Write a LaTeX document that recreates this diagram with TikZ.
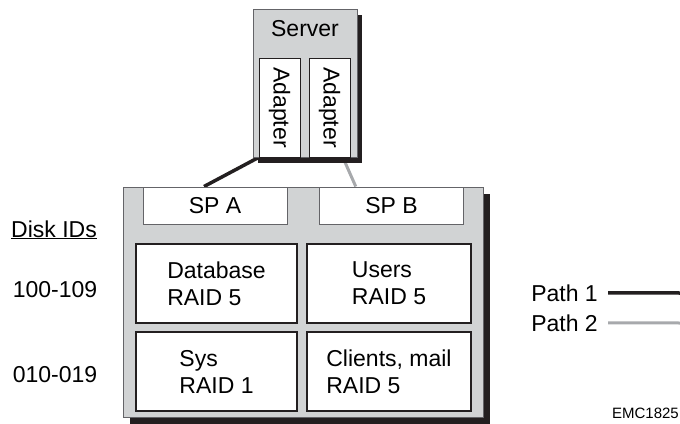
\documentclass[tikz,border=0pt]{standalone}
\usepackage{fontspec}
\setmainfont{Liberation Sans}
\usepackage{tikz}
\usetikzlibrary{shadows,backgrounds,calc}
\definecolor{boxgray}{RGB}{209,211,212}
\definecolor{linegray}{RGB}{167,169,172}
\definecolor{dark}{RGB}{35,31,32}
\definecolor{edgegray}{RGB}{100,100,104}
\tikzstyle{bigfont} = [font=\fontsize{23}{27}\selectfont]
\tikzstyle{cabinet} = [rectangle, draw=edgegray, line width=1pt, fill=boxgray, inner sep=0pt]
\tikzstyle{spbox} = [rectangle, draw=edgegray, line width=1pt, fill=white, minimum width=144pt, minimum height=37pt, inner sep=0pt, bigfont]
\tikzstyle{raidbox} = [rectangle, draw=dark, line width=1.6pt, fill=white, minimum height=79pt, inner sep=0pt, align=left, bigfont]
\tikzstyle{adapterbox} = [rectangle, draw=dark, line width=1pt, fill=white, minimum width=41pt, minimum height=99pt, inner sep=0pt, bigfont]
\tikzstyle{tag} = [inner sep=0pt, bigfont]
\tikzstyle{pathone} = [line width=3.5pt, dark]
\tikzstyle{pathtwo} = [line width=3pt, linegray]

\begin{document}
\begin{tikzpicture}[x=1pt,y=-1pt]
\useasboundingbox (0,0) rectangle (680,423);
\node (srv) at (305,83) [cabinet, minimum width=104pt, minimum height=148pt,
  drop shadow={fill=dark, opacity=1, shadow xshift=5pt, shadow yshift=-6pt}] {};
\node (srvtag) at (305,36) [tag, anchor=base] {Server};
\node (adA) at (279.5,107.5) [adapterbox] {\rotatebox{-90}{Adapter}};
\node (adB) at (329.5,107.5) [adapterbox] {\rotatebox{-90}{Adapter}};
\node (stor) at (303,302) [cabinet, minimum width=360pt, minimum height=230pt,
  drop shadow={fill=dark, opacity=1, shadow xshift=7pt, shadow yshift=-7pt}] {};
\node (spA) at (215,205.5) [spbox] {SP A};
\node (spB) at (391.5,205.5) [spbox] {SP B};
\node (db) at (216.5,283.5) [raidbox, minimum width=161pt] {Database\\RAID 5};
\node (usr) at (389,283.5) [raidbox, minimum width=164pt] {Users\\RAID 5};
\node (sys) at (216.5,371.5) [raidbox, minimum width=161pt] {Sys\\RAID 1};
\node (cli) at (389,371.5) [raidbox, minimum width=164pt] {Clients, mail\\RAID 5};
\begin{scope}[on background layer]
\draw[pathone] (adA.south west) -- (spA.120);
\draw[pathtwo] (adB.-75) -- (spB.152);
\end{scope}
\node (ids) at (54,237) [tag, anchor=base] {\underline{Disk IDs}};
\node (idhi) at (55,297) [tag, anchor=base] {100-109};
\node (idlo) at (55,382) [tag, anchor=base] {010-019};
\node (p1) at (598,301) [tag, anchor=base east] {Path 1};
\node (p2) at (598,331) [tag, anchor=base east] {Path 2};
\coordinate (p1end) at (680,293);
\coordinate (p2end) at (680,323);
\draw[pathone] ($(p1.east)+(10,0)$) -- (p1end);
\draw[pathtwo] ($(p2.east)+(10,0)$) -- (p2end);
\node (emc) at (679,418) [inner sep=0pt, anchor=base east, font=\fontsize{15}{18}\selectfont] {EMC1825};
\end{tikzpicture}
\end{document}
